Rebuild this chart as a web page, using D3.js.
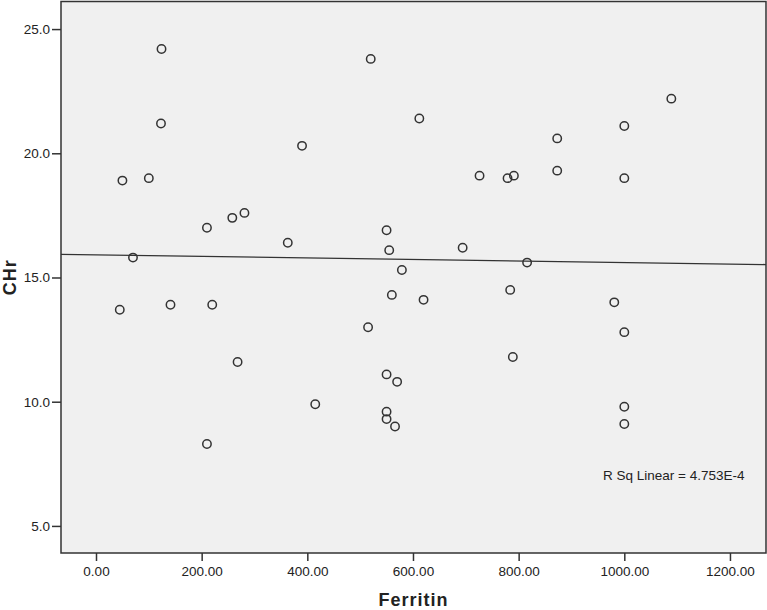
<!DOCTYPE html>
<html>
<head>
<meta charset="utf-8">
<script src="https://cdn.jsdelivr.net/npm/d3@7"></script>
<style>
  html, body { margin: 0; padding: 0; background: #ffffff; }
  svg { display: block; }
  text { font-family: "Liberation Sans", Arial, sans-serif; fill: #222; }
</style>
</head>
<body>
<svg id="chart" width="767" height="610"></svg>
<script>
// Data
const ferritin = [124, 123, 50, 100, 210, 258, 281, 70, 45, 141, 220, 268, 210,
  520, 612, 390, 726, 779, 791, 550, 363, 555, 694, 579, 560, 620, 515, 550, 570,
  415, 550, 550, 566, 1089, 1000, 873, 873, 1000, 816, 784, 981, 1000, 789, 1000, 1000];
const chr = [24.2, 21.2, 18.9, 19.0, 17.0, 17.4, 17.6, 15.8, 13.7, 13.9, 13.9, 11.6, 8.3,
  23.8, 21.4, 20.3, 19.1, 19.0, 19.1, 16.9, 16.4, 16.1, 16.2, 15.3, 14.3, 14.1, 13.0, 11.1, 10.8,
  9.9, 9.6, 9.3, 9.0, 22.2, 21.1, 20.6, 19.3, 19.0, 15.6, 14.5, 14.0, 12.8, 11.8, 9.8, 9.1];
const xTicks = [0, 200, 400, 600, 800, 1000, 1200];
const yTicks = [5, 10, 15, 20, 25];
const fitCoef = [15.91, -0.000307]; // intercept, slope of linear fit
const rSqLabel = "R Sq Linear = 4.753E-4";
const xTitle = "Ferritin";
const yTitle = "CHr";

const svg = d3.select("#chart");
const L = 61, T = 1.5, R = 766, B = 553;

const x = d3.scaleLinear().domain([-66.25, 1268.2]).range([L, R]);
const y = d3.scaleLinear().domain([3.91, 26.13]).range([B, 1]);

// plot background
svg.append("rect").attr("x", L).attr("y", T).attr("width", R - L).attr("height", B - T)
  .attr("fill", "#f0f0f0");

// regression line
const xd = x.domain();
svg.append("line")
  .attr("x1", x(xd[0])).attr("y1", y(fitCoef[0] + fitCoef[1] * xd[0]))
  .attr("x2", x(xd[1])).attr("y2", y(fitCoef[0] + fitCoef[1] * xd[1]))
  .attr("stroke", "#333").attr("stroke-width", 1.3);

// points
svg.append("g").selectAll("circle").data(ferritin.map((f, i) => [f, chr[i]]))
  .join("circle")
  .attr("cx", d => x(d[0])).attr("cy", d => y(d[1])).attr("r", 4.2)
  .attr("fill", "none").attr("stroke", "#333").attr("stroke-width", 1.5);

// frame
svg.append("rect").attr("x", L).attr("y", T).attr("width", R - L).attr("height", B - T)
  .attr("fill", "none").attr("stroke", "#333").attr("stroke-width", 1.5);

// axes
const xAxis = svg.append("g").attr("transform", `translate(0,${B})`)
  .call(d3.axisBottom(x).tickValues(xTicks).tickFormat(d3.format(".2f")).tickSize(8).tickPadding(5));
const yAxis = svg.append("g").attr("transform", `translate(${L},0)`)
  .call(d3.axisLeft(y).tickValues(yTicks).tickFormat(d3.format(".1f")).tickSize(9).tickPadding(2));
[xAxis, yAxis].forEach(a => {
  a.select(".domain").remove();
  a.selectAll(".tick line").attr("stroke", "#333").attr("stroke-width", 1.5);
  a.selectAll(".tick text").attr("fill", "#222").style("font-size", "13.5px")
    .style("font-family", "'Liberation Sans', Arial, sans-serif");
});

// R squared annotation
svg.append("text").attr("x", 603).attr("y", 480).style("font-size", "13.5px").text(rSqLabel);

// axis titles
svg.append("text").attr("x", (L + R) / 2).attr("y", 606).attr("text-anchor", "middle")
  .style("font-size", "18px").style("font-weight", "bold").style("letter-spacing", "1px").text(xTitle);
svg.append("text").attr("transform", `translate(16,${(T + B) / 2}) rotate(-90)`)
  .attr("text-anchor", "middle")
  .style("font-size", "18px").style("font-weight", "bold").style("letter-spacing", "1px").text(yTitle);
</script>
</body>
</html>
